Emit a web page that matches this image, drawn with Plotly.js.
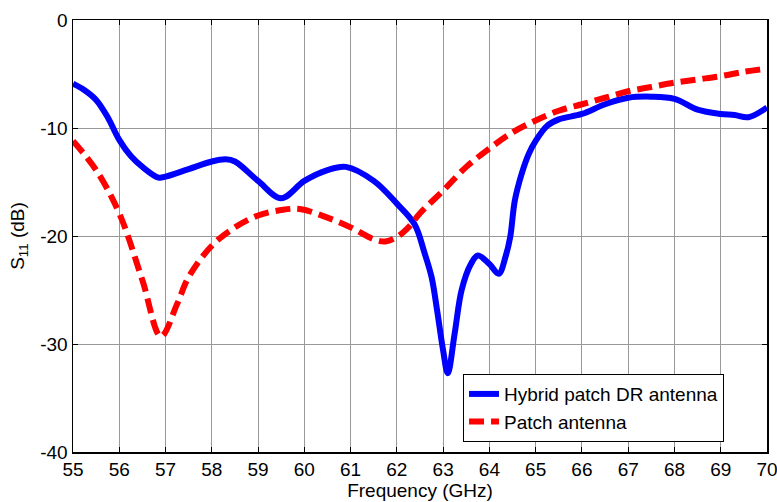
<!DOCTYPE html>
<html>
<head>
<meta charset="utf-8">
<script src="https://cdn.plot.ly/plotly-3.0.1.min.js"></script>
<style>html,body{margin:0;padding:0;background:#fff;}#chart{width:777px;height:502px;}</style>
</head>
<body>
<div id="chart"></div>
<script>
// Hybrid patch DR antenna (blue, solid)
const hybridFreq = [55, 55.25, 55.5, 55.75, 56, 56.25, 56.5, 56.85, 57, 57.5, 58, 58.3, 58.5, 59, 59.5, 60, 60.5, 60.9, 61.5, 62, 62.38, 62.6, 62.75, 62.87, 63, 63.1, 63.25, 63.4, 63.6, 63.75, 64, 64.2, 64.35, 64.45, 64.55, 64.7, 64.85, 65, 65.25, 65.5, 66, 66.5, 67, 67.5, 68, 68.5, 69, 69.3, 69.6, 70];
const hybridS11  = [-5.9, -6.5, -7.4, -9.0, -11.1, -12.6, -13.6, -14.6, -14.5, -13.8, -13.1, -12.9, -13.1, -14.9, -16.5, -14.9, -13.9, -13.6, -14.9, -17.0, -18.9, -21.6, -23.8, -26.9, -30.6, -32.7, -29.0, -25.0, -22.6, -21.8, -22.6, -23.5, -21.9, -20.1, -16.7, -14.2, -12.4, -11.2, -9.8, -9.2, -8.7, -7.8, -7.2, -7.1, -7.3, -8.3, -8.7, -8.8, -9.0, -8.1];
// Patch antenna (red, dashed)
const patchFreq = [55, 55.5, 56, 56.5, 56.9, 57.25, 57.5, 58, 58.5, 59, 59.5, 59.9, 60.5, 61, 61.5, 61.75, 62, 62.25, 62.5, 63, 63.5, 64, 64.5, 65, 65.5, 66, 66.5, 67, 67.5, 68, 68.5, 69, 69.5, 70];
const patchS11  = [-11.2, -13.9, -17.9, -24.1, -29.3, -26.3, -23.8, -20.9, -19.2, -18.1, -17.6, -17.5, -18.3, -19.2, -20.3, -20.5, -20.1, -19.2, -17.9, -15.8, -13.6, -11.9, -10.4, -9.3, -8.4, -7.8, -7.2, -6.6, -6.2, -5.8, -5.5, -5.2, -4.8, -4.5];

const xTicks = [55,56,57,58,59,60,61,62,63,64,65,66,67,68,69,70];
const yTicks = [0,-10,-20,-30,-40];

const font = 'Liberation Sans, Arial, sans-serif';
const fs = 19;

const traces = [
  {x: hybridFreq, y: hybridS11, mode: 'lines', name: 'Hybrid patch DR antenna',
   line: {color: '#0000ff', width: 6, shape: 'spline', smoothing: 1}},
  {x: patchFreq, y: patchS11, mode: 'lines', name: 'Patch antenna',
   line: {color: '#ff0000', width: 6, dash: '15px,7px', shape: 'spline', smoothing: 1}}
];

const layout = {
  width: 777, height: 502,
  margin: {l: 73, r: 10, t: 20, b: 50},
  paper_bgcolor: '#fff', plot_bgcolor: '#fff',
  font: {family: font, size: fs, color: '#000'},
  showlegend: true,
  legend: {x: 0.562, y: 0.023, xanchor: 'left', yanchor: 'bottom',
    bordercolor: '#000', borderwidth: 1, bgcolor: '#fff',
    tracegroupgap: 0,
    font: {family: font, size: fs, color: '#000'}},
  xaxis: {
    range: [55, 70], tickvals: xTicks, ticktext: xTicks.map(String),
    showgrid: true, gridcolor: '#999', gridwidth: 1,
    showline: true, linecolor: '#000', linewidth: 1.5, mirror: 'ticks',
    ticks: 'inside', ticklen: 5, tickcolor: '#000',
    zeroline: false, ticklabeloverflow: 'allow',
    tickfont: {family: font, size: fs, color: '#000'},
    title: {text: 'Frequency (GHz)', font: {family: font, size: fs, color: '#000'}, standoff: 1}
  },
  yaxis: {
    range: [-40, 0], tickvals: yTicks, ticktext: yTicks.map(String),
    showgrid: true, gridcolor: '#999', gridwidth: 1,
    showline: true, linecolor: '#000', linewidth: 1.5, mirror: 'ticks',
    ticks: 'inside', ticklen: 5, tickcolor: '#000',
    zeroline: false, ticklabeloverflow: 'allow',
    tickfont: {family: font, size: fs, color: '#000'},
    title: {text: 'S<sub>11</sub> (dB)', font: {family: font, size: fs, color: '#000'}, standoff: 10}
  }
};

Plotly.newPlot('chart', traces, layout, {displayModeBar: false, staticPlot: true});
</script>
</body>
</html>
